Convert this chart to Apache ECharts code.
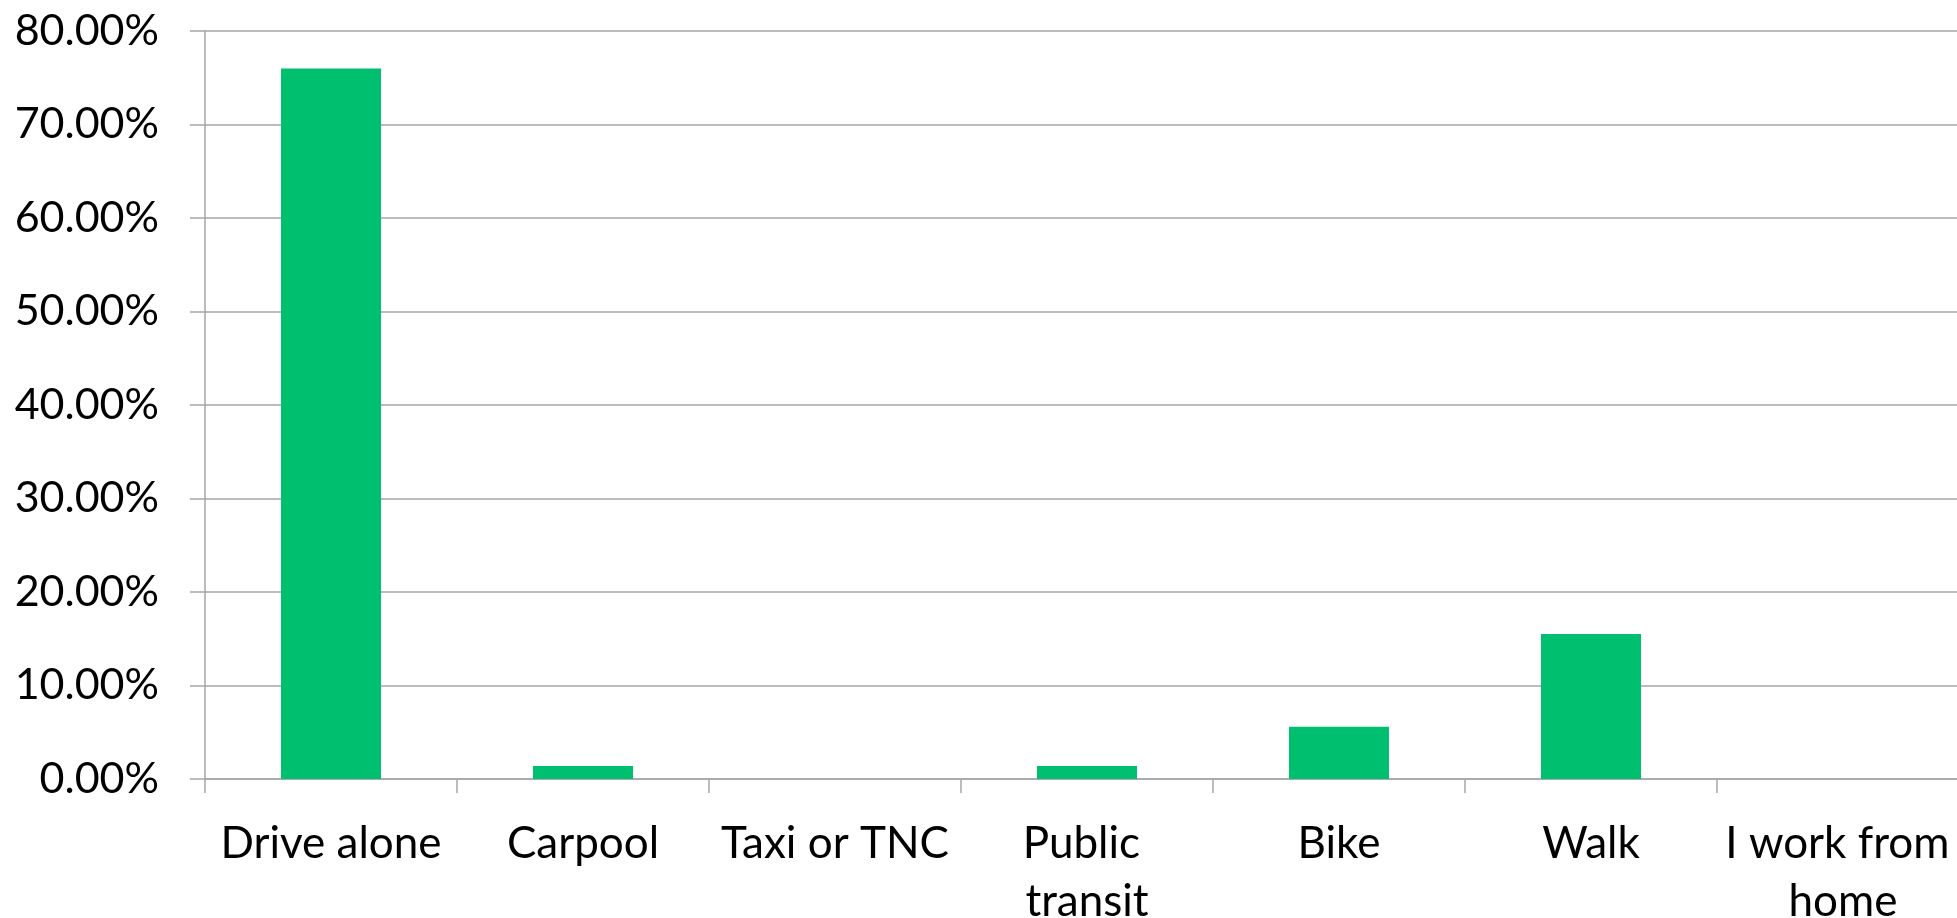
<!DOCTYPE html>
<html>
<head>
<meta charset="utf-8">
<script src="https://cdn.jsdelivr.net/npm/echarts@6/dist/echarts.min.js"></script>
<style>html,body{margin:0;padding:0;background:#fff;overflow:hidden}#c{width:1957px;height:918px}</style>
</head>
<body>
<div id="c"></div>
<script>
const categories = ['Drive alone', 'Carpool', 'Taxi or TNC', 'Public transit', 'Bike', 'Walk', 'I work from home'];
const shares = [76.0, 1.4, 0, 1.4, 5.6, 15.5, 0];
const yMin = 0, yMax = 80, yStep = 10;

const chart = echarts.init(document.getElementById('c'), null, {renderer: 'canvas'});
chart.setOption({
  animation: false,
  backgroundColor: '#ffffff',
  grid: {left: 205, width: 1764, top: 31, bottom: 139, containLabel: false, outerBoundsMode: 'none'},
  xAxis: {
    type: 'category',
    data: categories,
    axisLine: {lineStyle: {color: '#a6a6a6', width: 1.5}},
    axisTick: {show: true, length: 14, alignWithLabel: false, lineStyle: {color: '#a6a6a6', width: 1.5}},
    axisLabel: {
      interval: 0, color: '#000', fontFamily: 'Lato', fontSize: 44, lineHeight: 58, margin: 36,
      width: 250, overflow: 'break'
    },
    splitLine: {show: false}
  },
  yAxis: {
    type: 'value', min: yMin, max: yMax, interval: yStep,
    axisLine: {show: true, lineStyle: {color: '#a6a6a6', width: 1.5}},
    axisTick: {show: true, length: 15, lineStyle: {color: '#a6a6a6', width: 1.5}},
    splitLine: {show: true, lineStyle: {color: '#a6a6a6', width: 1.5}},
    axisLabel: {
      color: '#000', fontFamily: 'Lato', fontSize: 43, margin: 46,
      formatter: v => v.toFixed(2) + '%'
    }
  },
  series: [{
    type: 'bar',
    data: shares,
    barWidth: 100,
    itemStyle: {color: '#00BF6F'}
  }]
});
</script>
</body>
</html>
